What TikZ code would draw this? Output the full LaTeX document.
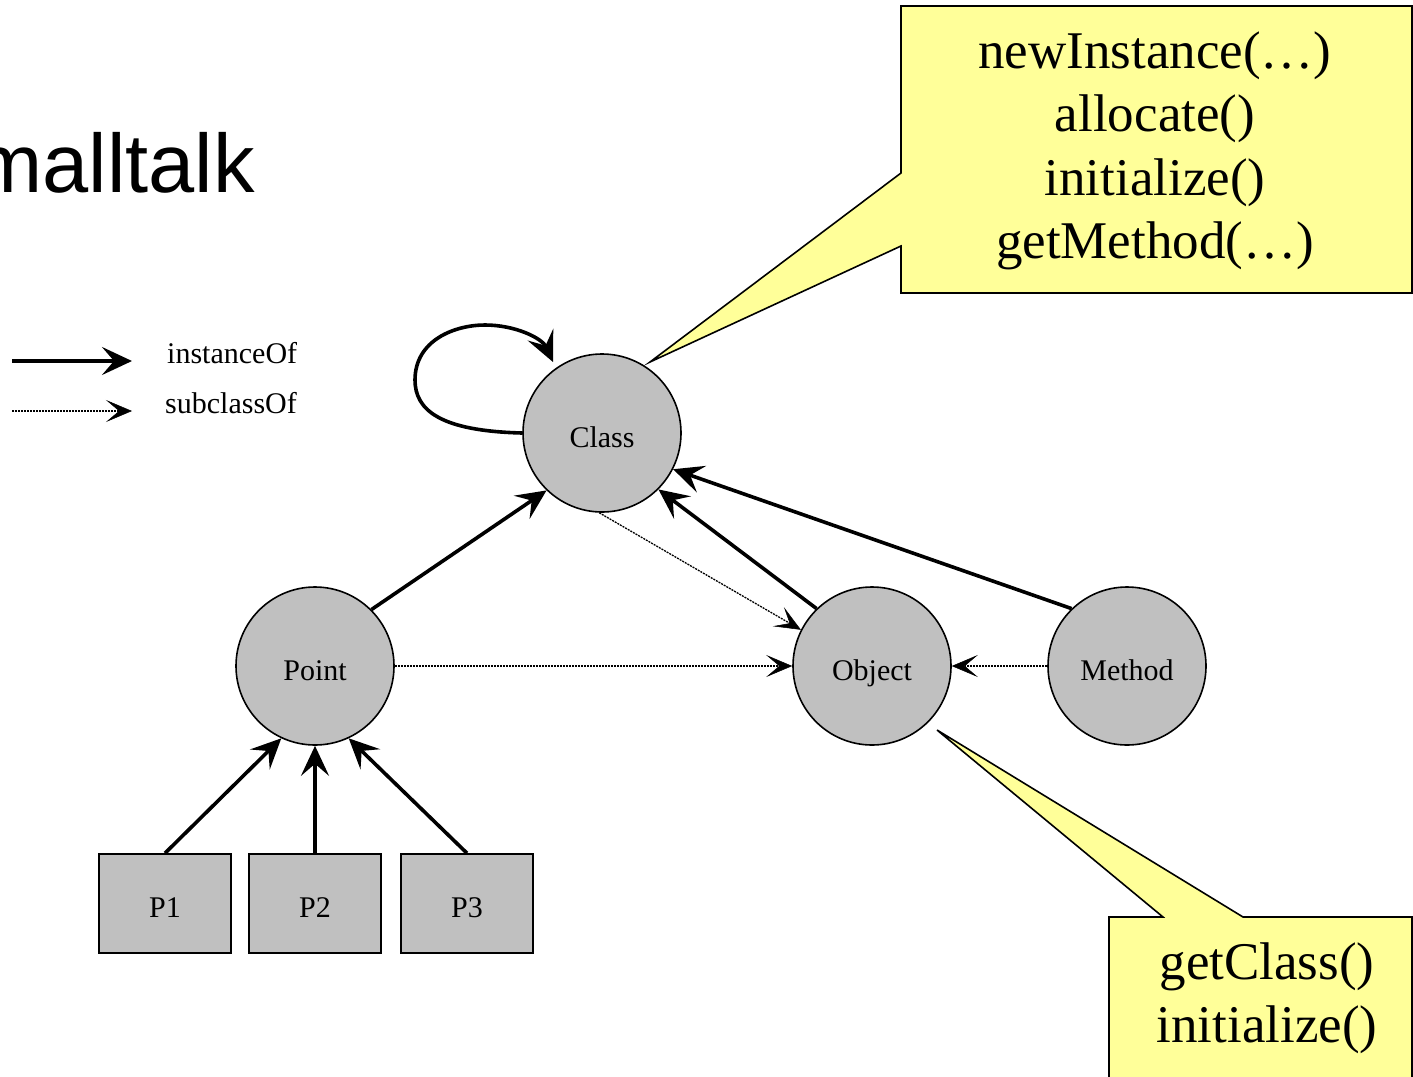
\documentclass[tikz,border=0pt]{standalone}
\usepackage{fontspec}
\setmainfont{Liberation Serif}
\newfontfamily\titlefont{Liberation Sans}
\usetikzlibrary{arrows.meta}
\definecolor{nodegray}{RGB}{192,192,192}
\definecolor{calloutyellow}{RGB}{255,255,153}
\tikzset{
  lbl/.style={font=\fontsize{30}{36}\selectfont,text height=30pt,text depth=2pt},
  cls/.style={circle,draw,line width=1.6pt,fill=nodegray,minimum size=158pt,inner sep=0pt,lbl},
  inst/.style={rectangle,draw,line width=1.6pt,fill=nodegray,minimum width=132pt,minimum height=99pt,inner sep=0pt,lbl},
  instof/.style={line width=3.6pt,-{Stealth[length=30pt,width=28pt,inset=12pt]}},
  subof/.style={line width=1.3pt,dash pattern=on 2pt off 1pt,-{Stealth[length=26pt,width=22pt,inset=13pt,line width=0.5pt]}},
  callout/.style={draw,line width=1.6pt,fill=calloutyellow,line join=miter},
  calltext/.style={font=\fontsize{53}{63.5}\selectfont,align=center,inner sep=0pt},
  legtext/.style={font=\fontsize{30}{36}\selectfont,anchor=west,inner sep=0pt}
}
\begin{document}
\begin{tikzpicture}[x=1pt,y=-1pt]
\useasboundingbox (0,0) rectangle (1413,1076);
% title
\node[anchor=base east,inner sep=0pt,font=\titlefont\fontsize{83}{90}\selectfont] (title) at (255,192) {malltalk};
% legend
\coordinate (l1a) at (12,361); \coordinate (l1b) at (132,361);
\coordinate (l2a) at (12,411); \coordinate (l2b) at (132,411);
\draw[instof] (l1a) -- (l1b);
\draw[subof] (l2a) -- (l2b);
\node[legtext] (lt1) at (167,353) {instanceOf};
\node[legtext] (lt2) at (165,403) {subclassOf};
% callouts
\draw[callout] (901,6) -- (1412,6) -- (1412,293) -- (901,293) -- (901,246) -- (650,362) -- (901,173) -- cycle;
\node[calltext] (c1) at (1155,151) {newInstance(\dots)\\allocate()\\initialize()\\getMethod(\dots)};
\draw[callout] (1109,1080) -- (1109,917) -- (1163,917) -- (937,730) -- (1243,917) -- (1412,917) -- (1412,1080);
\node[calltext] (c2) at (1267,998) {getClass()\\initialize()};
% nodes
\node[cls] (Class) at (602,433) {Class};
\node[cls] (Point) at (315,666) {Point};
\node[cls] (Object) at (872,666) {Object};
\node[cls] (Method) at (1127,666) {Method};
\node[inst] (P1) at (165,903.5) {P1};
\node[inst] (P2) at (315,903.5) {P2};
\node[inst] (P3) at (467,903.5) {P3};
% connectors
\draw[instof] (Class.west) .. controls (440,431) and (415,410) .. (415,380) .. controls (415,340) and (455,325) .. (485,325) .. controls (515,325) and (542,338) .. (553,362);
\draw[instof] (Point.45) -- (Class.226);
\draw[instof] (Object.134) -- (Class.315);
\draw[instof] (Method.134) -- (Class.333);
\draw[subof] (Class.268) -- (Object.153);
\draw[subof] (Point.east) -- (Object.west);
\draw[subof] (Method.west) -- (Object.east);
\draw[instof] (P1.north) -- (Point.245);
\draw[instof] (P2.north) -- (Point.south);
\draw[instof] (P3.north) -- (Point.295);
\end{tikzpicture}
\end{document}
